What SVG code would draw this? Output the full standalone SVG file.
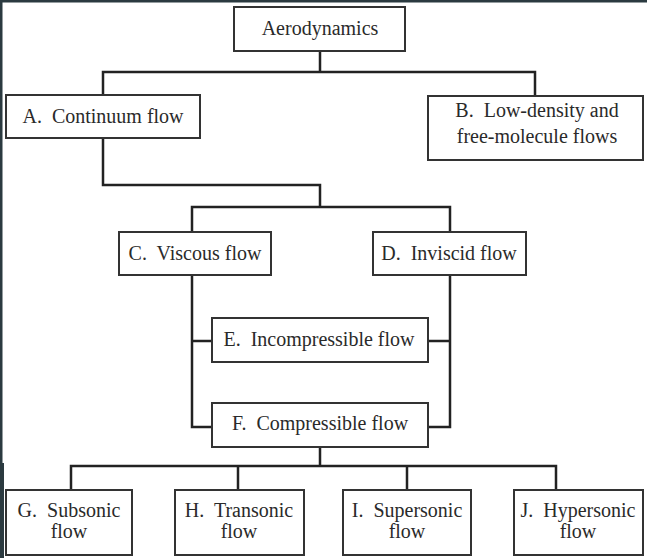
<svg xmlns="http://www.w3.org/2000/svg" width="647" height="558" viewBox="0 0 647 558">
<style>
.box{fill:#fff;stroke:#333;stroke-width:2}
.ln{fill:none;stroke:#222;stroke-width:2.5;stroke-linejoin:miter;stroke-linecap:square}
text{font-family:"Liberation Serif","Times New Roman",serif;font-size:20px;fill:#2a2a2a;text-anchor:middle;white-space:pre}
</style>
<rect x="0" y="0" width="647" height="558" fill="#fff"/>
<rect x="0" y="0" width="647" height="2.5" fill="#2b3a40"/>
<rect x="0" y="0" width="2.5" height="558" fill="#2b3a40"/>
<rect x="0" y="463" width="4" height="95" fill="#2b3a40"/>
<g id="connectors">
<path class="ln" d="M320 51V72M103 94V72H535V96"/>
<path class="ln" d="M103 138V185H320V207M192 232V207H450V232"/>
<path class="ln" d="M192 275V427H212M192 341H212M450 275V427H428M450 341H428"/>
<path class="ln" d="M320 447V466M71 490V466H556V490M238 466V490M407 466V490"/>
</g>
<g id="aero"><rect class="box" x="234" y="7" width="171" height="44"/><text x="320" y="35">Aerodynamics</text></g>
<g id="A"><rect class="box" x="6" y="95" width="194" height="43"/><text x="103" y="123">A.  Continuum flow</text></g>
<g id="B"><rect class="box" x="428" y="96" width="215" height="64"/><text x="537" y="117">B.  Low-density and</text><text x="537" y="143">free-molecule flows</text></g>
<g id="C"><rect class="box" x="119" y="232" width="152" height="43"/><text x="195" y="260">C.  Viscous flow</text></g>
<g id="D"><rect class="box" x="373" y="232" width="153" height="43"/><text x="449" y="260">D.  Inviscid flow</text></g>
<g id="E"><rect class="box" x="212" y="318" width="216" height="44"/><text x="319" y="346">E.  Incompressible flow</text></g>
<g id="F"><rect class="box" x="212" y="403" width="216" height="44"/><text x="320" y="430">F.  Compressible flow</text></g>
<g id="G"><rect class="box" x="6" y="490" width="126" height="65"/><text x="69" y="517">G.  Subsonic</text><text x="69" y="538">flow</text></g>
<g id="H"><rect class="box" x="175" y="490" width="129" height="65"/><text x="239" y="517">H.  Transonic</text><text x="239" y="538">flow</text></g>
<g id="I"><rect class="box" x="343" y="490" width="128" height="65"/><text x="407" y="517">I.  Supersonic</text><text x="407" y="538">flow</text></g>
<g id="J"><rect class="box" x="514" y="490" width="129" height="65"/><text x="578" y="517">J.  Hypersonic</text><text x="578" y="538">flow</text></g>
</svg>
